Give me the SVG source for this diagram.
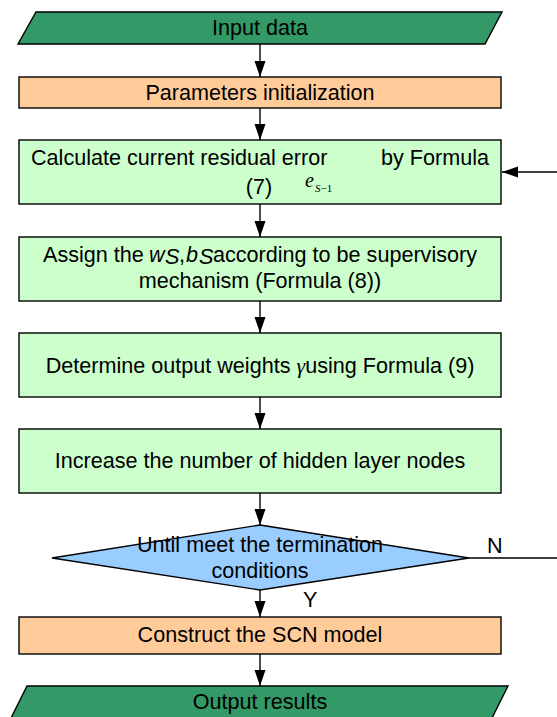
<svg xmlns="http://www.w3.org/2000/svg" width="557" height="717" viewBox="0 0 557 717">
<style>
.t{font-family:"Liberation Sans",Arial,sans-serif;font-size:21.6px;fill:#000}
.m{font-family:"Liberation Serif","Times New Roman",serif;font-style:italic;fill:#000}
.box{stroke:#000;stroke-width:1.4}
.g{fill:#CCFFCC}
.o{fill:#FFCC99}
.io{fill:#339966}
.c{fill:none;stroke:#000;stroke-width:1.4}
</style>
<defs>
<marker id="ah" markerWidth="16" markerHeight="12" refX="16" refY="5.5" orient="auto" markerUnits="userSpaceOnUse" viewBox="0 0 16 11">
<path d="M0,0 L16,5.5 L0,11 Z" fill="#000"/>
</marker>
</defs>
<g id="connectors">
<line class="c" x1="260" y1="44" x2="260" y2="77" marker-end="url(#ah)"/>
<line class="c" x1="260" y1="108" x2="260" y2="140" marker-end="url(#ah)"/>
<line class="c" x1="260" y1="204" x2="260" y2="237" marker-end="url(#ah)"/>
<line class="c" x1="260" y1="301" x2="260" y2="333" marker-end="url(#ah)"/>
<line class="c" x1="260" y1="397" x2="260" y2="429" marker-end="url(#ah)"/>
<line class="c" x1="260" y1="493" x2="260" y2="525" marker-end="url(#ah)"/>
<line class="c" x1="260" y1="590" x2="260" y2="617" marker-end="url(#ah)"/>
<line class="c" x1="260" y1="654" x2="260" y2="686" marker-end="url(#ah)"/>
<path class="c" d="M469,558 H600 V172 H502" marker-end="url(#ah)"/>
<text class="t" x="303" y="607">Y</text>
<text class="t" x="487" y="553">N</text>
</g>
<g id="input">
<polygon class="box io" points="36,12 502,12 485,44 18,44"/>
<text class="t" x="260" y="35" text-anchor="middle">Input data</text>
</g>
<g id="params">
<rect class="box o" x="19" y="77" width="482" height="31"/>
<text class="t" x="260" y="100" text-anchor="middle">Parameters initialization</text>
</g>
<g id="calc">
<rect class="box g" x="19" y="140" width="482" height="64"/>
<text class="t" x="31" y="165">Calculate current residual error</text>
<text class="t" x="489" y="165" text-anchor="end">by Formula</text>
<text class="t" x="259" y="194" text-anchor="middle">(7)</text>
<text class="m" x="305" y="187" font-size="20">e</text>
<text class="m" x="315" y="192" font-size="11">S<tspan font-style="normal">−1</tspan></text>
</g>
<g id="assign">
<rect class="box g" x="19" y="237" width="482" height="64"/>
<text class="t" x="43" y="262">Assign the</text>
<text class="t" x="149" y="262" font-style="italic">w</text>
<text class="t" x="165" y="263.5" font-style="italic" font-size="13">S</text>
<text class="t" x="179" y="262">,</text>
<text class="t" x="186" y="262" font-style="italic">b</text>
<text class="t" x="199" y="263.5" font-style="italic" font-size="13">S</text>
<text class="t" x="477" y="262" text-anchor="end">according to be supervisory</text>
<text class="t" x="260" y="288" text-anchor="middle">mechanism (Formula (8))</text>
</g>
<g id="determine">
<rect class="box g" x="19" y="333" width="482" height="64"/>
<text class="t" x="260" y="373" text-anchor="middle">Determine output weights <tspan class="m" font-size="22">γ</tspan>using Formula (9)</text>
</g>
<g id="increase">
<rect class="box g" x="19" y="429" width="482" height="64"/>
<text class="t" x="260" y="468" text-anchor="middle">Increase the number of hidden layer nodes</text>
</g>
<g id="decision">
<polygon class="box" fill="#99CCFF" points="260,525 469,558 260,590 52,558"/>
<text class="t" x="260" y="552" text-anchor="middle">Until meet the termination</text>
<text class="t" x="260" y="578" text-anchor="middle">conditions</text>
</g>
<g id="construct">
<rect class="box o" x="19" y="617" width="482" height="37"/>
<text class="t" x="260" y="642" text-anchor="middle">Construct the SCN model</text>
</g>
<g id="output">
<polygon class="box io" points="27,686 508,686 491,720 10,720"/>
<text class="t" x="260" y="709" text-anchor="middle">Output results</text>
</g>
</svg>
